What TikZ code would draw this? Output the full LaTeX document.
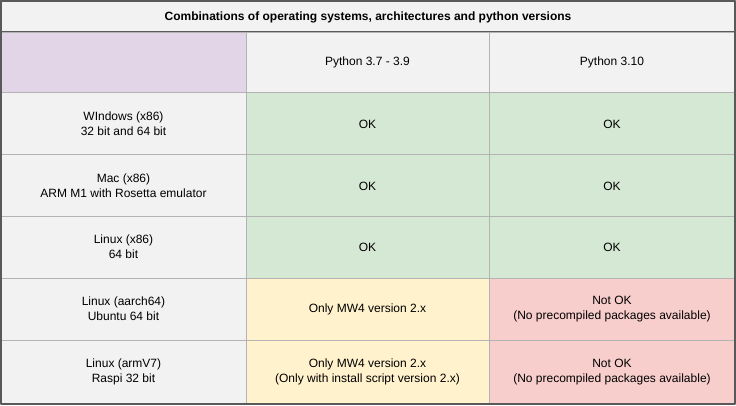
\documentclass[tikz,border=0pt]{standalone}
\usepackage{fontspec}
\setmainfont{Liberation Sans}
\definecolor{dgray}{HTML}{595959}
\definecolor{lgray}{HTML}{B3B3B3}
\definecolor{cellgray}{HTML}{F2F2F2}
\definecolor{cpurple}{HTML}{E1D5E7}
\definecolor{cgreen}{HTML}{D5E8D4}
\definecolor{cyellow}{HTML}{FFF2CC}
\definecolor{cred}{HTML}{F8CECC}
\begin{document}
\begin{tikzpicture}[x=0.75pt,y=-0.75pt,line join=round]
				\tikzset{cell/.style={draw=lgray,line width=0.75pt},
					txt/.style={font=\fontsize{9}{11.25}\selectfont,align=center,inner sep=0pt}}
				\useasboundingbox (0,0) rectangle (736,405);
				% title
				\draw[fill=cellgray,draw=dgray,line width=1.5pt] (1,1) rectangle (735,32);
				\node[txt,font=\fontsize{9}{11.25}\selectfont\bfseries] (title) at (368,17) {Combinations of operating systems, architectures and python versions};
				% header row
				\draw[cell,fill=cpurple] (1,32) rectangle (246,92);
				\draw[cell,fill=cellgray] (246,32) rectangle (489,92);
				\draw[cell,fill=cellgray] (489,32) rectangle (735,92);
				\node[txt] (py39) at (367.5,62) {Python 3.7 - 3.9};
				\node[txt] (py310) at (612,62) {Python 3.10};
				% operating systems
				\draw[cell,fill=cellgray] (1,92) rectangle (246,154);
				\draw[cell,fill=cellgray] (1,154) rectangle (246,216);
				\draw[cell,fill=cellgray] (1,216) rectangle (246,278);
				\draw[cell,fill=cellgray] (1,278) rectangle (246,340);
				\draw[cell,fill=cellgray] (1,340) rectangle (246,403);
				\node[txt] (win) at (123.5,124) {WIndows (x86)\\32 bit and 64 bit};
				\node[txt] (mac) at (123.5,186) {Mac (x86)\\ARM M1 with Rosetta emulator};
				\node[txt] (lin) at (123.5,247) {Linux (x86)\\64 bit};
				\node[txt] (aarch) at (123.5,309) {Linux (aarch64)\\Ubuntu 64 bit};
				\node[txt] (armv) at (123.5,372) {Linux (armV7)\\Raspi 32 bit};
				% python 3.7 - 3.9
				\draw[cell,fill=cgreen] (246,92) rectangle (489,154);
				\draw[cell,fill=cgreen] (246,154) rectangle (489,216);
				\draw[cell,fill=cgreen] (246,216) rectangle (489,278);
				\draw[cell,fill=cyellow] (246,278) rectangle (489,340);
				\draw[cell,fill=cyellow] (246,340) rectangle (489,403);
				\node[txt] (winA) at (367.5,124) {OK};
				\node[txt] (macA) at (367.5,186) {OK};
				\node[txt] (linA) at (367.5,247) {OK};
				\node[txt] (aarchA) at (367.5,309) {Only MW4 version 2.x};
				\node[txt] (armvA) at (367.5,372) {Only MW4 version 2.x\\(Only with install script version 2.x)};
				% python 3.10
				\draw[cell,fill=cgreen] (489,92) rectangle (735,154);
				\draw[cell,fill=cgreen] (489,154) rectangle (735,216);
				\draw[cell,fill=cgreen] (489,216) rectangle (735,278);
				\draw[cell,fill=cred] (489,278) rectangle (735,340);
				\draw[cell,fill=cred] (489,340) rectangle (735,403);
				\node[txt] (winB) at (612,124) {OK};
				\node[txt] (macB) at (612,186) {OK};
				\node[txt] (linB) at (612,247) {OK};
				\node[txt] (aarchB) at (612,309) {Not OK\\(No precompiled packages available)};
				\node[txt] (armvB) at (612,372) {Not OK\\(No precompiled packages available)};
				% frame
				\draw[draw=dgray,line width=1.5pt] (1,1) rectangle (735,404);
			\end{tikzpicture}
\end{document}
